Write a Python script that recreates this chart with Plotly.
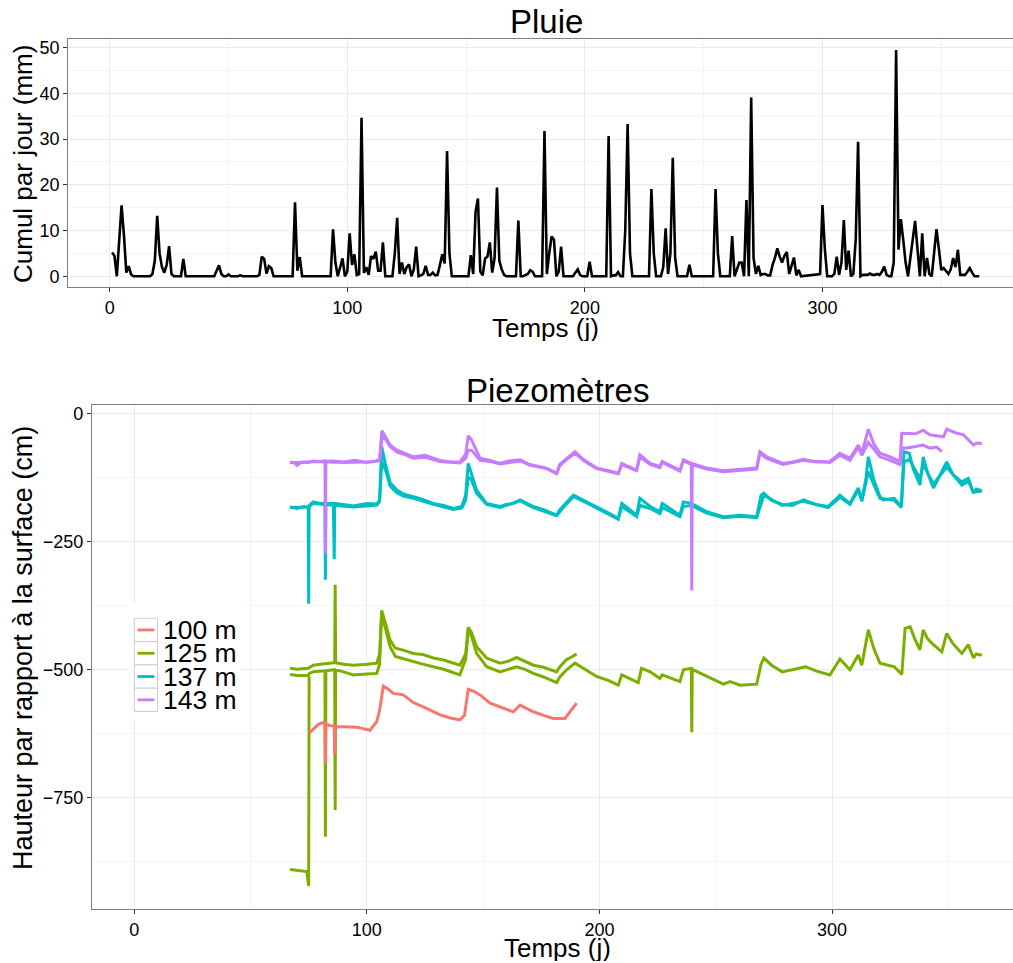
import plotly.graph_objects as go

# ---------------- Data: rainfall (day, mm) ----------------
rain_day = [1, 2, 3, 4, 5, 6, 7, 8, 9, 10, 17, 18, 19, 20, 21, 22, 23, 24, 25, 26, 27,
            30, 31, 32, 44, 45, 46, 47, 48, 49, 50, 51, 54, 55, 56, 62, 63, 64, 65, 66, 67, 68, 69,
            77, 78, 79, 80, 81, 93, 94, 95, 96, 97, 98, 99, 100, 101, 102, 103, 104, 105, 106,
            107, 108, 109, 110, 111, 112, 113, 114, 115, 116, 119, 120, 121, 122, 123, 124, 125,
            126, 127, 128, 129, 130, 131, 132, 133, 134, 135, 136, 137, 138, 139, 140, 141, 142,
            143, 144, 151, 152, 153, 154, 155, 156, 157, 158, 159, 160, 161, 162, 163, 164, 165,
            166, 167, 171, 172, 173, 174, 175, 176, 177, 178, 179, 182, 183, 184, 185, 186, 187,
            188, 189, 190, 191, 195, 196, 197, 198, 199, 201, 202, 203, 209, 210, 211, 212, 213,
            214, 215, 216, 217, 218, 219, 220, 227, 228, 229, 230, 232, 233, 234, 235, 236, 237,
            238, 239, 243, 244, 245, 254, 255, 256, 257, 261, 262, 263, 264, 265, 266, 267, 268,
            269, 270, 271, 272, 273, 274, 275, 276, 277, 278, 279, 280, 281, 282, 283, 284, 285,
            286, 287, 288, 289, 290, 291, 298, 299, 300, 301, 302, 304, 305, 306, 307, 308, 309,
            310, 311, 312, 313, 314, 315, 316, 317, 318, 319, 320, 321, 322, 323, 324, 325, 326,
            327, 328, 329, 330, 331, 332, 333, 334, 335, 336, 337, 338, 339, 340, 341, 342, 343,
            344, 345, 346, 347, 348, 349, 350, 351, 352, 353, 354, 355, 356, 357, 358, 359, 360,
            361, 362, 363, 364, 365, 366]
rain_mm = [5.2, 4.5, 0, 7.5, 15.5, 9, 0.8, 2.2, 0.4, 0, 0, 0.5, 3.5, 13.2, 5, 2, 0.8, 2.5, 6.6, 0.5, 0,
           0, 3.8, 0, 0, 1.2, 2.4, 0.5, 0, 0, 0.4, 0, 0, 0.2, 0, 0, 0.3, 4.3, 3.8, 0.6, 2.2, 1.8, 0,
           0, 16.2, 1.2, 4.2, 0, 0, 10.3, 3, 0, 2, 3.9, 0, 1, 9.4, 2.5, 4.8, 0.3, 0.5, 34.7,
           0.7, 2, 0.3, 4.4, 3.8, 5.4, 1.2, 1.2, 7.4, 0, 0, 5, 12.8, 0.5, 3.0, 0.5, 2,
           2.6, 0, 1.5, 6.5, 0, 0.2, 0.5, 2.3, 0.3, 0.3, 0.8, 0.2, 0.3, 2.5, 4.8, 2.8, 27.4,
           5, 0, 0, 4.6, 0.5, 14.1, 17, 1, 0.2, 3.9, 4.3, 7.4, 0.8, 4, 19.4, 3.4, 1.5,
           0.3, 0, 0, 12.2, 0, 0, 0.2, 0.5, 1.3, 1, 0, 0, 31.8, 0.5, 5, 8.7, 8,
           0, 1, 6.5, 0, 0, 0.8, 1.5, 0.3, 0, 0, 3.2, 0, 0, 30.7, 0, 0.2, 0.2,
           0.9, 0, 0, 10, 33.3, 5, 0, 0, 19.1, 5, 0, 0, 2, 10.5, 0.5, 5, 25.9,
           4, 0, 0, 2.5, 0, 0, 19.1, 5, 0, 0, 8.8, 0, 1.5, 3, 3, 0, 16.7,
           0, 39.1, 4, 0.5, 2.3, 0.3, 0.5, 0.5, 0.2, 0.2, 2.5, 4, 6.1, 4.3, 3, 4.5, 5.3,
           0.5, 2.5, 4.1, 0.2, 1.4, 0, 0.3, 0.5, 15.6, 6, 0, 0, 0.5, 4.3, 0.3, 3, 12.3,
           1.4, 5.6, 0, 0.5, 8, 29.4, 0, 0.3, 0.3, 0.3, 0.6, 0.3, 0.3, 0.5, 0.3, 1, 2.1,
           0.3, 0, 0, 3, 49.5, 5.8, 12.5, 8, 3, 0, 4, 8, 12.1, 6, 0, 9.4, 0,
           4, 0.5, 0, 5, 10.3, 6, 1.4, 1.8, 1, 0.5, 1.5, 4, 2, 5.8, 0.3, 0.3, 0.3,
           1, 1.8, 0.8, 0, 0, 0]

# ---------------- Data: piezometers (day, cm) ----------------
p100_day = [75.2, 77, 79, 81.3, 82, 82.2, 82.4, 84, 86, 86.2, 86.4, 90, 95.7, 101.4, 104.3, 105.5,
            107.1, 109, 111.4, 115.7, 120, 125, 131.5, 136, 140, 142, 143.6, 146, 148.7, 153, 159,
            163, 165.9, 168, 171.6, 176, 180.2, 185.2, 187.4, 190.2]
p100_val = [-625, -616, -608, -604, -606, -684, -606, -610, -611, -667, -612, -612, -613, -619, -602, -580,
            -533, -538, -547, -550, -565, -575, -589, -595, -599, -590, -539, -543, -550, -566, -577,
            -583, -570, -575, -583, -590, -596, -596, -583, -566]

p125a_day = [67, 70, 74.8, 75.5, 77, 80, 85.6, 86.2, 86.4, 86.6, 90, 94.2, 100, 104.3, 105.5, 106.4,
             108, 110, 112.3, 116, 120, 124, 128.6, 133, 140, 142.5, 143.6, 145, 147.2, 151.5, 157.3,
             161, 164.4, 168, 171.6, 176, 181.6, 183, 185.9, 188, 190.2]
p125a_val = [-498, -500, -498, -496, -492, -490, -487, -487, -335, -487, -490, -492, -490, -488, -470, -385,
             -410, -443, -459, -463, -469, -471, -478, -482, -492, -470, -418, -428, -456, -478, -488,
             -484, -477, -484, -492, -496, -505, -495, -481, -476, -470]

p125b_day = [67, 70, 74.8, 75.3, 77, 80, 82, 82.2, 82.4, 85.6, 86.2, 86.4, 86.6, 90, 94.2, 100, 104.3,
             105.5, 106.4, 108, 110, 112.3, 116, 120, 124, 128.6, 133, 140, 142.5, 143.6, 145, 147.2,
             151.5, 157.3, 161, 164.4, 168, 171.6, 176, 181.6, 183, 185.9, 189.5, 192, 198.8, 204,
             208.1, 209.6, 213, 216.7, 218.1, 221.8, 226, 227, 234.6, 236.1, 239.5, 239.7, 239.9,
             246.1, 253.3, 256.2, 260.5, 267.6, 269.5, 270.7, 274, 278.6, 283, 288.7, 293, 299.1,
             303.4, 307.7, 311.3, 312.8, 315.6, 318, 320.6, 326.8, 330, 331.4, 333.6, 335.5, 337.8,
             339.2, 341, 343.6, 347.2, 349.3, 352, 355.8, 358.6, 360.8, 362, 363.6, 364.4]
p125b_val = [-510, -512, -512, -508, -505, -503, -503, -827, -503, -501, -501, -775, -501, -505, -511, -509, -508,
             -490, -391, -420, -456, -475, -480, -485, -490, -495, -500, -511, -480, -423, -435, -469,
             -495, -505, -500, -495, -500, -508, -515, -526, -515, -501, -488, -495, -514, -522,
             -531, -511, -518, -526, -498, -505, -518, -511, -524, -501, -498, -623, -500,
             -514, -529, -524, -531, -529, -490, -478, -492, -505, -500, -495, -503, -511,
             -480, -501, -472, -492, -423, -460, -488, -495, -510, -420, -417, -440, -462,
             -423, -440, -452, -466, -430, -450, -469, -452, -478, -470, -472, -471]

p125c_day = [67, 70, 74.2, 75, 75.2]
p125c_val = [-891, -893, -895, -923, -514]

p137a_day = [67, 70, 73, 74.8, 75, 75.2, 77, 80, 82, 82.2, 82.4, 85.6, 86, 86.2, 90, 94.2, 100, 104.3,
             105.5, 106.4, 108, 110, 112.9, 116, 120, 124, 128.6, 133, 137.2, 140.8, 142.5, 143.6, 145,
             147.2, 151.5, 157.3, 160, 163, 165.9, 171.6, 176, 181.6, 183, 185.2, 188.8, 194.5, 200,
             204, 208.1, 209.6, 213, 216, 217.4, 221.8, 226, 227, 234.6, 236.1, 239.5, 246.1, 253.3,
             260.5, 267.6, 269.5, 270.7, 274, 278.6, 283, 287.7, 293, 298.3, 303.4, 307.7, 311.3,
             312.8, 314.5, 315.6, 318, 320.6, 322, 326.8, 329.8, 330.9, 333.2, 335, 337.8, 339.2,
             341, 343.6, 346, 349.3, 352, 355.8, 358.6, 360.8, 362, 363.6, 364.4]
p137a_val = [-183, -186, -182, -184, -372, -180, -173, -176, -175, -325, -176, -176, -285, -176, -178, -181, -176, -177,
             -170, -65, -100, -135, -150, -158, -163, -168, -176, -180, -186, -182, -160, -98, -118,
             -150, -176, -182, -178, -176, -169, -182, -188, -199, -188, -178, -160, -173, -185,
             -195, -205, -176, -188, -199, -166, -182, -192, -176, -199, -173, -176, -192, -202,
             -199, -202, -160, -156, -170, -178, -180, -169, -178, -182, -160, -176, -146,
             -169, -130, -85, -130, -163, -169, -166, -182, -75, -78, -110, -140, -85,
             -115, -146, -125, -95, -120, -134, -127, -156, -148, -150, -151]

p137b_day = [67, 75, 77, 85.6, 94.2, 104.3, 105.5, 106.4, 108, 110, 112.9, 116, 120, 128.6, 137.2, 140.8,
             142.5, 143.6, 145, 147.2, 151.5, 157.3, 165.9, 171.6, 181.6, 185.2, 188.8, 194.5, 208.1,
             209.6, 216, 217.4, 221.8, 226, 227, 234.6, 236.1, 239.5, 246.1, 253.3, 260.5, 267.6,
             270.7, 278.6, 287.7, 298.3, 303.4, 307.7, 311.3, 312.8, 315.6, 318, 320.6, 326.8, 329.8,
             330.9, 333.2, 337.8, 339.2, 343.6, 349.3, 355.8, 358.6, 360.8, 364.4]
p137b_val = [-184, -183, -176, -179, -183, -179, -172, -95, -110, -142, -155, -162, -166, -178, -188, -185,
             -170, -124, -130, -156, -178, -184, -171, -184, -200, -180, -163, -175, -207,
             -182, -202, -180, -186, -196, -184, -202, -182, -180, -195, -204, -201, -204,
             -160, -180, -172, -184, -164, -178, -150, -172, -114, -140, -166, -170, -184,
             -95, -90, -128, -100, -138, -105, -140, -133, -154, -152]

p143a_day = [67, 69, 70, 72, 75, 77, 80, 82, 82.2, 82.4, 85, 90, 95, 100, 104, 105.5, 106.5, 108, 110,
             113, 116, 120, 125, 131.5, 136, 140, 142.5, 143.6, 145, 148.7, 153, 157.3, 161, 165.9,
             170, 177.3, 181.6, 183, 186, 189.5, 193, 198.8, 204, 208.1, 209.6, 213, 216, 217.4,
             221.8, 226, 227, 234.6, 236.1, 239.5, 239.7, 239.9, 246.1, 253.3, 260.5, 267.6, 269,
             271.9, 279, 283, 287.7, 293, 299.1, 303.4, 307.7, 311.3, 312.8, 315.6, 318, 320.6, 325,
             329.2, 330, 332.1, 336, 339.2, 342, 347.9, 349.3, 353, 356.5, 360.8, 362, 363.6, 364.4]
p143a_val = [-95, -97, -102, -95, -96, -93, -94, -93, -275, -94, -93, -95, -92, -96, -93, -90, -34, -45, -62,
             -72, -78, -85, -82, -92, -95, -95, -80, -44, -52, -88, -92, -98, -93, -91,
             -100, -107, -117, -100, -88, -75, -90, -107, -112, -117, -98, -105, -111, -81,
             -98, -104, -94, -111, -91, -98, -346, -98, -107, -112, -110, -107, -75,
             -85, -98, -95, -90, -95, -94, -78, -88, -62, -78, -31, -60, -78, -85,
             -94, -39, -39, -40, -33, -42, -46, -31, -38, -42, -62, -58, -59, -58]

p143b_day = [67, 72, 77, 82, 90, 100, 104, 105.5, 106.5, 108, 110, 113, 116, 120, 125, 131.5, 140, 142.5,
             143.6, 145, 148.7, 153, 157.3, 165.9, 170, 177.3, 181.6, 183, 186, 189.5, 193, 198.8,
             208.1, 209.6, 216, 217.4, 221.8, 226, 227, 234.6, 236.1, 239.5, 246.1, 253.3, 260.5,
             267.6, 269, 271.9, 279, 287.7, 299.1, 303.4, 307.7, 311.3, 312.8, 315.6, 318, 320.6, 325,
             329.2, 330, 332.1, 336, 339.2, 342, 345, 347.2]
p143b_val = [-96, -96, -94, -95, -96, -95, -94, -92, -46, -50, -65, -76, -80, -88, -86, -94, -97, -88,
             -72, -72, -92, -94, -99, -93, -101, -108, -118, -102, -90, -78, -92, -108,
             -118, -100, -112, -85, -100, -106, -96, -113, -93, -100, -109, -114, -112,
             -109, -78, -88, -100, -92, -96, -82, -92, -66, -82, -57, -70, -85, -92,
             -100, -68, -68, -65, -62, -68, -66, -75]

categories = ["100 m", "125 m", "137 m", "143 m"]
colors = ["#F8766D", "#7CAE00", "#00BFC4", "#C77CFF"]

# ---------------- Figure ----------------
W, H = 1013, 963
def px(x):
    return x / W
def py(y):
    return (H - y) / H

fig = go.Figure()

fig.add_trace(go.Scatter(x=rain_day, y=rain_mm, mode="lines",
                         line=dict(color="black", width=2.6), xaxis="x", yaxis="y",
                         showlegend=False))

piezo = [
    (p125a_day, p125a_val, 1), (p125b_day, p125b_val, 1), (p125c_day, p125c_val, 1),
    (p137a_day, p137a_val, 2), (p137b_day, p137b_val, 2),
    (p100_day, p100_val, 0),
    (p143b_day, p143b_val, 3), (p143a_day, p143a_val, 3),
]
for d, v, ci in piezo:
    fig.add_trace(go.Scatter(x=d, y=v, mode="lines",
                             line=dict(color=colors[ci], width=3.0),
                             xaxis="x2", yaxis="y2", showlegend=False, name=categories[ci]))

font_family = "Liberation Sans, Arial, sans-serif"
grid_major = "#EBEBEB"
grid_minor = "#F5F5F5"
border = "#7F7F7F"

common_axis = dict(showline=True, linecolor=border, linewidth=1.2, automargin=False,
                   ticks="outside", ticklen=4, tickcolor="#333333", tickwidth=1,
                   showgrid=True, gridcolor=grid_major, gridwidth=1,
                   zeroline=False, tickfont=dict(size=18, color="black", family=font_family))

fig.update_layout(
    template="none",
    width=W, height=H,
    margin=dict(l=0, r=0, t=0, b=0, pad=0, autoexpand=False),
    paper_bgcolor="white", plot_bgcolor="white",
    font=dict(family=font_family, color="black"),
    showlegend=False,
    xaxis=dict(domain=[px(68.3), 1.0], range=[-17.42, 380.2], anchor="y",
               tickmode="linear", tick0=0, dtick=100, mirror=True,
               minor=dict(tickmode="linear", tick0=0, dtick=50, showgrid=True,
                          gridcolor=grid_minor, ticks=""),
               **common_axis),
    yaxis=dict(domain=[py(287.3), py(38.7)], range=[-2.41, 51.97], anchor="x",
               tickmode="linear", tick0=0, dtick=10, mirror=False,
               minor=dict(tickmode="linear", tick0=0, dtick=5, showgrid=True,
                          gridcolor=grid_minor, ticks=""),
               **common_axis),
    xaxis2=dict(domain=[px(92), 1.0], range=[-18.14, 377.8], anchor="y2",
                tickmode="linear", tick0=0, dtick=100, mirror=True,
                minor=dict(tickmode="linear", tick0=0, dtick=50, showgrid=True,
                           gridcolor=grid_minor, ticks=""),
                **common_axis),
    yaxis2=dict(domain=[py(909.3), py(405.3)], range=[-968.75, 15.6], anchor="x2",
                tickmode="linear", tick0=0, dtick=250, mirror=False,
                minor=dict(tickmode="linear", tick0=0, dtick=125, showgrid=True,
                           gridcolor=grid_minor, ticks=""),
                **common_axis),
)

annotations = [
    dict(text="Pluie", x=px(546), y=py(22), font=dict(size=33)),
    dict(text="Piezomètres", x=px(557), y=py(390), font=dict(size=33)),
    dict(text="Temps (j)", x=px(545), y=py(328), font=dict(size=26), height=26),
    dict(text="Temps (j)", x=px(557), y=py(948), font=dict(size=26), height=26),
    dict(text="Cumul par jour (mm)", x=px(23), y=py(164), font=dict(size=26), textangle=-90),
    dict(text="Hauteur par rapport à la surface (cm)", x=px(23), y=py(648), font=dict(size=27),
         textangle=-90),
]
for a in annotations:
    a.update(xref="paper", yref="paper", showarrow=False, xanchor="center", yanchor="middle")
    a["font"].update(family=font_family, color="black")
fig.update_layout(annotations=annotations)

# ---------------- Legend (ggplot-style keys) ----------------
shapes = [dict(type="rect", xref="paper", yref="paper", x0=px(128), x1=px(242),
               y0=py(719), y1=py(604), fillcolor="white", line=dict(width=0), layer="above")]
box_top = 618.3
box_h = 23.3
for i, (cat, col) in enumerate(zip(categories, colors)):
    y0 = box_top + i * box_h
    yc = y0 + box_h / 2
    shapes.append(dict(type="rect", xref="paper", yref="paper", x0=px(134.3), x1=px(157.6),
                       y0=py(y0 + box_h), y1=py(y0), fillcolor="white",
                       line=dict(color="#CCCCCC", width=1), layer="above"))
    shapes.append(dict(type="line", xref="paper", yref="paper", x0=px(137.5), x1=px(154.5),
                       y0=py(yc), y1=py(yc), line=dict(color=col, width=2.8), layer="above"))
    fig.add_annotation(text=cat, xref="paper", yref="paper", x=px(161), y=py(yc),
                       xanchor="left", yanchor="middle", showarrow=False, height=22,
                       font=dict(size=26.5, family=font_family, color="black"))
fig.update_layout(shapes=shapes)

fig.write_html("out.html", config={"displayModeBar": False},
               post_script="document.body.style.margin='0';document.body.style.overflow='hidden';")
